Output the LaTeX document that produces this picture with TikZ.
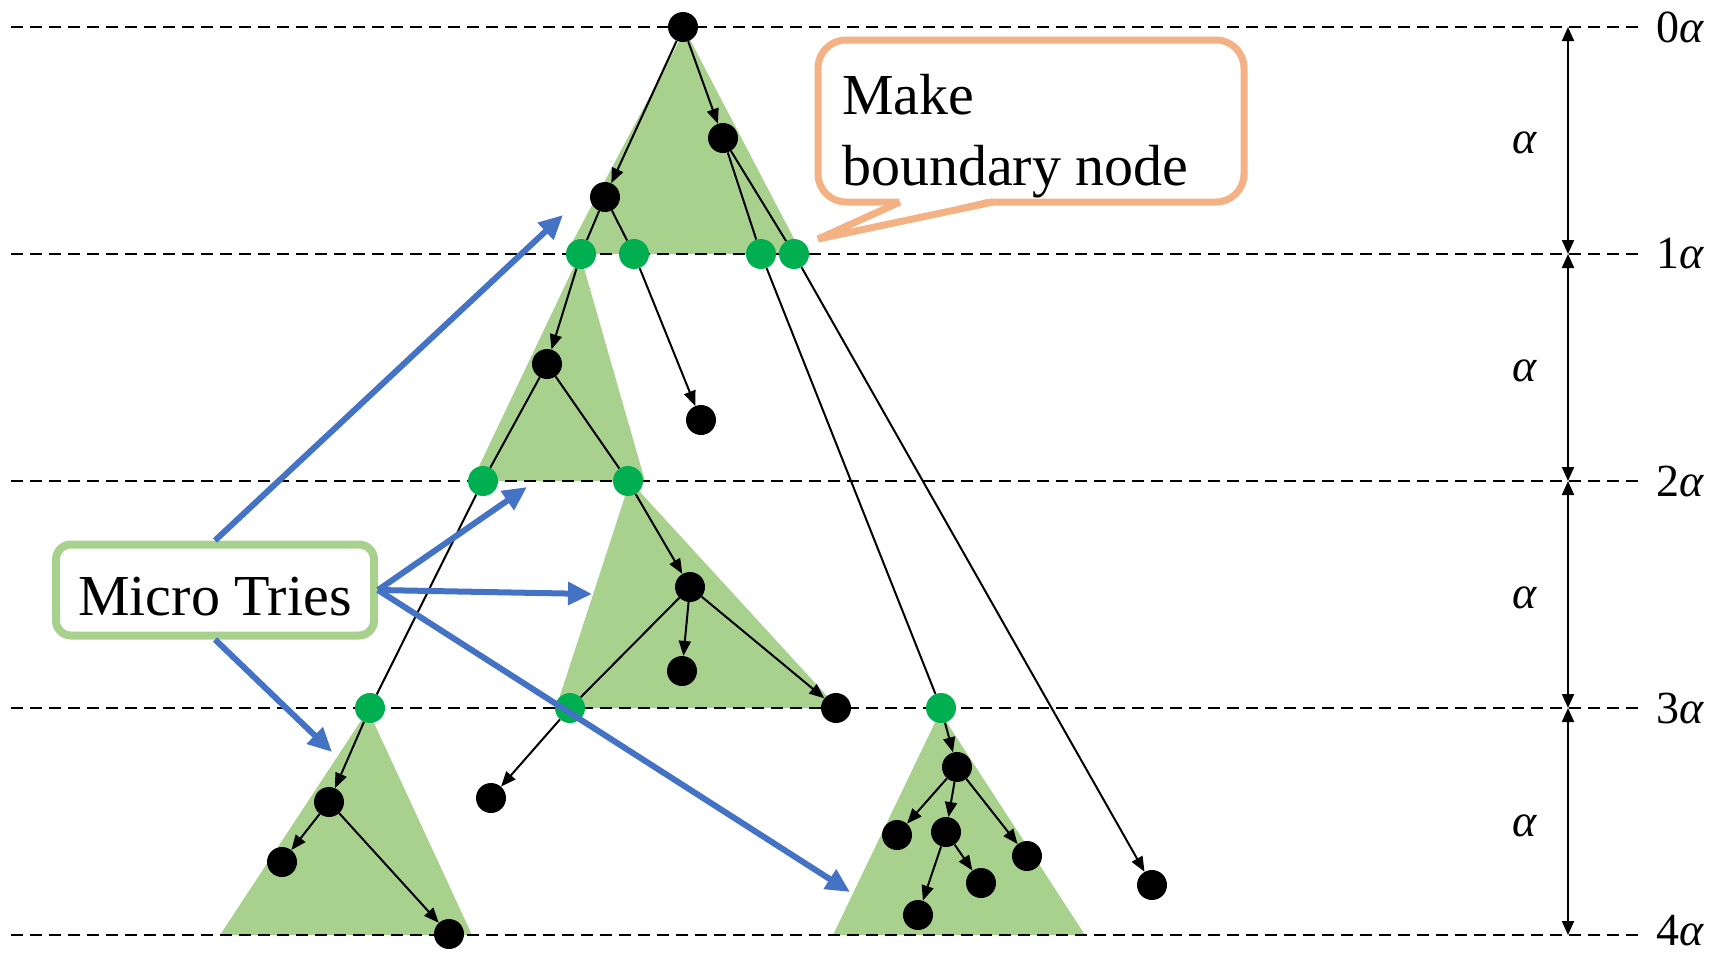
\documentclass[tikz,border=0pt]{standalone}
\usepackage{fontspec}
\setmainfont{Liberation Serif}
\usetikzlibrary{arrows.meta}
\definecolor{trifill}{HTML}{A9D18E}
\definecolor{bnd}{HTML}{00B050}
\definecolor{ptr}{HTML}{4472C4}
\definecolor{note}{HTML}{F4B183}
\pgfdeclarelayer{background}
\pgfsetlayers{background,main}
\begin{document}
\begin{tikzpicture}[x=1pt,y=-1pt,
  dot/.style={circle,minimum size=30pt,inner sep=0pt},
  tnode/.style={dot,fill=black},
  bnode/.style={dot,fill=bnd},
  link/.style={line width=2pt},
  arr/.style={link,-{Triangle[length=15pt,width=12pt]}},
  level/.style={line width=2pt,dash pattern=on 12pt off 7pt},
  tri/.style={fill=trifill},
  callarrow/.style={draw=ptr,line width=6pt,-{Triangle[length=24pt,width=22pt]}},
  dim/.style={line width=2pt,{Triangle[length=14pt,width=12pt]}-{Triangle[length=14pt,width=12pt]}},
  lvl/.style={font=\fontsize{46}{50}\selectfont,inner sep=0pt},
  bigtext/.style={font=\fontsize{58}{71}\selectfont,inner sep=0pt},
]
\useasboundingbox (0,0) rectangle (1727,954);

% trie nodes
\node[tnode] (r) at (683,27) {};
\node[tnode] (a) at (723,138) {};
\node[tnode] (b) at (605,197) {};
\node[bnode] (g1) at (581,254) {};
\node[bnode] (g2) at (634,254) {};
\node[bnode] (g3) at (761,254) {};
\node[bnode] (g4) at (794,254) {};
\node[tnode] (c) at (547,364) {};
\node[tnode] (d) at (701,420) {};
\node[bnode] (g5) at (483,481) {};
\node[bnode] (g6) at (628,481) {};
\node[tnode] (e) at (690,587) {};
\node[tnode] (f) at (682,671) {};
\node[tnode] (h) at (836,708) {};
\node[bnode] (g7) at (570,708) {};
\node[tnode] (i) at (491,798) {};
\node[bnode] (g8) at (370,708) {};
\node[tnode] (j) at (329,802) {};
\node[tnode] (k) at (282,862) {};
\node[tnode] (l) at (449,934) {};
\node[bnode] (g9) at (941,708) {};
\node[tnode] (m) at (957,767) {};
\node[tnode] (n) at (897,835) {};
\node[tnode] (o) at (946,832) {};
\node[tnode] (p) at (1027,856) {};
\node[tnode] (q) at (981,883) {};
\node[tnode] (s) at (918,915) {};
\node[tnode] (t) at (1152,885) {};

% level coordinates
\foreach \k/\y in {0/27,1/254,2/481,3/708,4/935}{
  \coordinate (w\k) at (11,\y);
  \coordinate (e\k) at (1640,\y);
  \coordinate (v\k) at (1568,\y);
}

\begin{pgfonlayer}{background}
  % micro tries
  \fill[tri] (685,30) -- (566,254) -- (802,254) -- cycle;
  \fill[tri] (580,254) -- (472,481) -- (645,481) -- cycle;
  \fill[tri] (630,481) -- (556,708) -- (838,708) -- cycle;
  \fill[tri] (368,710) -- (220,935) -- (472,935) -- cycle;
  \fill[tri] (940,712) -- (833,935) -- (1085,935) -- cycle;
  % level lines
  \foreach \k in {0,...,4}{\draw[level] (w\k) -- (e\k);}
  % trie edges
  \draw[arr] (r) -- (b);
  \draw[arr] (r) -- (a);
  \draw[link] (b) -- (g1);
  \draw[link] (b) -- (g2);
  \draw[link] (a) -- (g3);
  \draw[link] (a) -- (g4);
  \draw[arr] (g1) -- (c);
  \draw[arr] (g2) -- (d);
  \draw[link] (g3) -- (g9);
  \draw[arr] (g4) -- (t);
  \draw[link] (c) -- (g5);
  \draw[link] (c) -- (g6);
  \draw[link] (g5) -- (g8);
  \draw[arr] (g6) -- (e);
  \draw[link] (e) -- (g7);
  \draw[arr] (e) -- (f);
  \draw[arr] (e) -- (h);
  \draw[arr] (g7) -- (i);
  \draw[arr] (g8) -- (j);
  \draw[arr] (j) -- (k);
  \draw[arr] (j) -- (l);
  \draw[arr] (g9) -- (m);
  \draw[arr] (m) -- (n);
  \draw[arr] (m) -- (o);
  \draw[arr] (m) -- (p);
  \draw[arr] (o) -- (q);
  \draw[arr] (o) -- (s);
\end{pgfonlayer}

% height scale on the right
\foreach \k/\kk in {0/1,1/2,2/3,3/4}{\draw[dim] (v\k) -- (v\kk);}
\foreach \k/\y in {0/143,1/371,2/598,3/826}{
  \node[lvl] (al\k) at (1525,\y) {\textit{α}};
}
\foreach \k/\y in {0/27,1/254,2/481,3/708,4/931}{
  \node[lvl,anchor=west] (lb\k) at (1656,\y) {\k\textit{α}};
}

% "Micro Tries" label and its pointers
\node[draw=trifill,line width=8pt,rounded corners=15pt,fill=white,
      minimum width=318pt,minimum height=91pt,
      text height=50pt,text depth=0pt,bigtext] (mt) at (215,590) {Micro Tries};
\coordinate (p1) at (563,215);
\coordinate (p2) at (527,487);
\coordinate (p3) at (592,594);
\coordinate (p4) at (850,892);
\coordinate (p5) at (332,752);
\draw[callarrow] (mt.north) -- (p1);
\draw[callarrow] (mt.east) -- (p2);
\draw[callarrow] (mt.east) -- (p3);
\draw[callarrow] (mt.east) -- (p4);
\draw[callarrow] (mt.south) -- (p5);

% callout for boundary nodes
\draw[note,line width=7pt,fill=white,rounded corners=28pt] (818,40) rectangle (1244,202);
\fill[white] (902,198) -- (991,198) -- (818,239) -- cycle;
\draw[note,line width=7pt,line join=bevel] (900,202) -- (818,239) -- (993,202);
\node[bigtext,anchor=base west] (mk1) at (842,114) {Make};
\node[bigtext,anchor=base west] (mk2) at (842,185) {boundary node};
\end{tikzpicture}
\end{document}
